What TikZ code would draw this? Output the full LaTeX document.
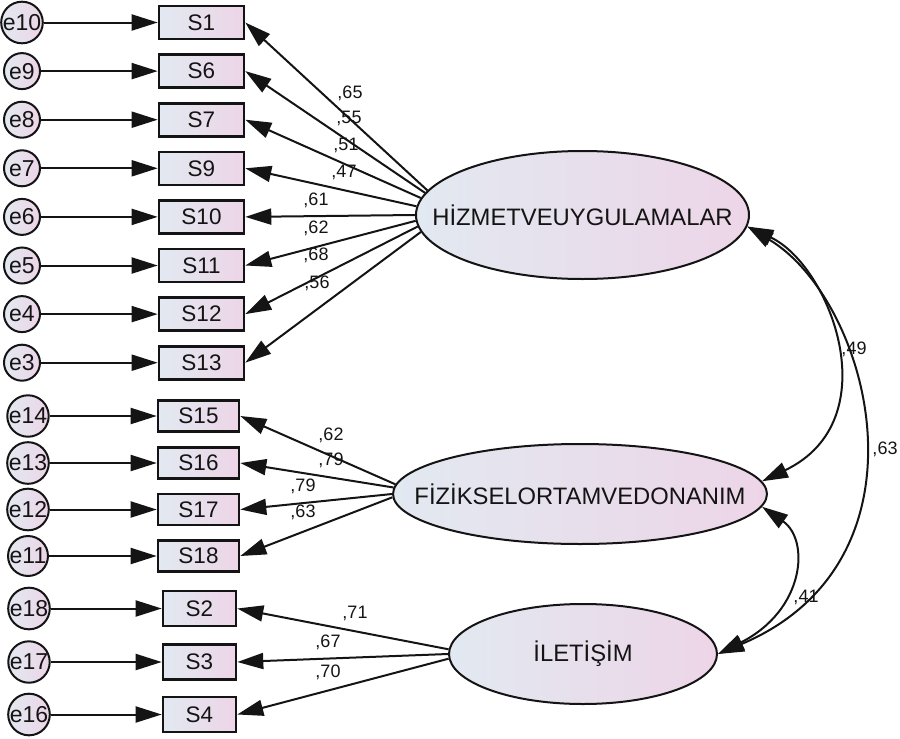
\documentclass[tikz,border=0pt]{standalone}
\usepackage{fontspec}
\setmainfont{Liberation Sans}
\usetikzlibrary{arrows.meta,shapes.geometric}
\definecolor{shL}{RGB}{226,233,241}
\definecolor{shR}{RGB}{237,213,231}
\definecolor{ink}{RGB}{20,20,20}
\begin{document}
\begin{tikzpicture}[x=1pt,y=-1pt,
  obs/.style={draw=ink, line width=2.6pt, rectangle, inner sep=0pt, left color=shL, right color=shR, text=ink, font=\fontsize{22.5}{24}\selectfont},
  err/.style={draw=ink, line width=2pt, circle, inner sep=0pt, minimum size=36pt, left color=shL, right color=shR, text=ink, font=\fontsize{23}{24}\selectfont},
  lat/.style={draw=ink, line width=2pt, ellipse, inner sep=0pt, left color=shL, right color=shR},
  lattext/.style={font=\fontsize{23.8}{26}\selectfont, text=ink},
  tip/.style={-{Triangle[length=26pt,width=16pt]}, line width=2pt, draw=ink},
  dtip/.style={{Triangle[length=26pt,width=16pt]}-{Triangle[length=26pt,width=16pt]}, line width=2pt, draw=ink},
  coef/.style={font=\fontsize{18}{20}\selectfont, inner sep=0pt, text=ink}
]
\useasboundingbox (0,0) rectangle (900,739);

% group 1
\node[obs, minimum width=85pt, minimum height=33pt] (s1)  at (201.5, 22.5) {S1};
\node[obs, minimum width=85pt, minimum height=33pt] (s6)  at (201.5, 71.1) {S6};
\node[obs, minimum width=85pt, minimum height=33pt] (s7)  at (201.5,119.7) {S7};
\node[obs, minimum width=85pt, minimum height=33pt] (s9)  at (201.5,168.3) {S9};
\node[obs, minimum width=85pt, minimum height=33pt] (s10) at (201.5,216.9) {S10};
\node[obs, minimum width=85pt, minimum height=33pt] (s11) at (201.5,265.5) {S11};
\node[obs, minimum width=85pt, minimum height=33pt] (s12) at (201.5,314.1) {S12};
\node[obs, minimum width=85pt, minimum height=33pt] (s13) at (201.5,362.7) {S13};

\node[err] (e10) at (22, 22.5) {e10};
\node[err] (e9)  at (22, 71.1) {e9};
\node[err] (e8)  at (22,119.7) {e8};
\node[err] (e7)  at (22,168.3) {e7};
\node[err] (e6)  at (22,216.9) {e6};
\node[err] (e5)  at (22,265.5) {e5};
\node[err] (e4)  at (22,314.1) {e4};
\node[err] (e3)  at (22,362.7) {e3};

% group 2
\node[obs, minimum width=81pt, minimum height=31pt] (s15) at (198.5,416) {S15};
\node[obs, minimum width=81pt, minimum height=31pt] (s16) at (198.5,463) {S16};
\node[obs, minimum width=81pt, minimum height=31pt] (s17) at (198.5,509.5) {S17};
\node[obs, minimum width=81pt, minimum height=31pt] (s18) at (198.5,556) {S18};

\node[err] (e14) at (28,416) {e14};
\node[err] (e13) at (28,463) {e13};
\node[err] (e12) at (28,509.5) {e12};
\node[err] (e11) at (28,556) {e11};

% group 3
\node[obs, minimum width=73pt, minimum height=35pt] (s2) at (199.5,608.5) {S2};
\node[obs, minimum width=73pt, minimum height=35pt] (s3) at (199.5,662) {S3};
\node[obs, minimum width=73pt, minimum height=35pt] (s4) at (199.5,714.5) {S4};

\node[err] (e18) at (29,608.5) {e18};
\node[err] (e17) at (29,662) {e17};
\node[err] (e16) at (29,714.5) {e16};

% latent variables
\node[lat, minimum width=333pt, minimum height=128pt, label={[lattext]center:HİZMETVEUYGULAMALAR}] (hiz) at (582.5,215) {};
\node[lat, minimum width=374pt, minimum height=100pt, label={[lattext]center:FİZİKSELORTAMVEDONANIM}] (fiz) at (580,494) {};
\node[lat, minimum width=268pt, minimum height=100pt, label={[lattext]center:İLETİŞİM}] (ile) at (583,654) {};

% error arrows
\foreach \a/\b in {e10/s1, e9/s6, e8/s7, e7/s9, e6/s10, e5/s11, e4/s12, e3/s13,
                   e14/s15, e13/s16, e12/s17, e11/s18, e18/s2, e17/s3, e16/s4}
  \draw[tip] (\a) -- (\b);

% loadings
\draw[tip] (hiz.171)   -- (s1.east);
\draw[tip] (hiz.172.3) -- (s6.east);
\draw[tip] (hiz.174)   -- (s7.east);
\draw[tip] (hiz.177.3) -- (s9.east);
\draw[tip] (hiz.west)  -- (s10.east);
\draw[tip] (hiz.182.7) -- (s11.east);
\draw[tip] (hiz.184.5) -- (s12.east);
\draw[tip] (hiz.186.2) -- (s13.east);

\draw[tip] (fiz.177)   -- (s15.east);
\draw[tip] (fiz.178)   -- (s16.east);
\draw[tip] (fiz.180)   -- (s17.east);
\draw[tip] (fiz.181.5) -- (s18.east);

\draw[tip] (ile.178) -- (s2.east);
\draw[tip] (ile.180) -- (s3.east);
\draw[tip] (ile.182) -- (s4.east);

% covariances
\draw[dtip] (hiz.-4) .. controls (830,265) and (890,420) .. (fiz.4);
\draw[dtip] (hiz.-4) .. controls (870,300) and (940,560) .. (ile.east);
\draw[dtip] (fiz.-4) .. controls (810,540) and (805,610) .. (ile.east);

% coefficient labels
\node[coef] (c1) at (350, 93) {,65};
\node[coef] (c6) at (349,118) {,55};
\node[coef] (c7) at (346,145) {,51};
\node[coef] (c9) at (344,172) {,47};
\node[coef] (c10) at (316,200) {,61};
\node[coef] (c11) at (316,228) {,62};
\node[coef] (c12) at (316,255) {,68};
\node[coef] (c13) at (317,283) {,56};

\node[coef] (c15) at (331,435) {,62};
\node[coef] (c16) at (331,460) {,79};
\node[coef] (c17) at (303,486) {,79};
\node[coef] (c18) at (303,512) {,63};

\node[coef] (c2) at (355,613) {,71};
\node[coef] (c3) at (328,642) {,67};
\node[coef] (c4) at (328,672) {,70};

\node[coef] (r1) at (854,349) {,49};
\node[coef] (r2) at (885,449) {,63};
\node[coef] (r3) at (806,597) {,41};
\end{tikzpicture}
\end{document}
